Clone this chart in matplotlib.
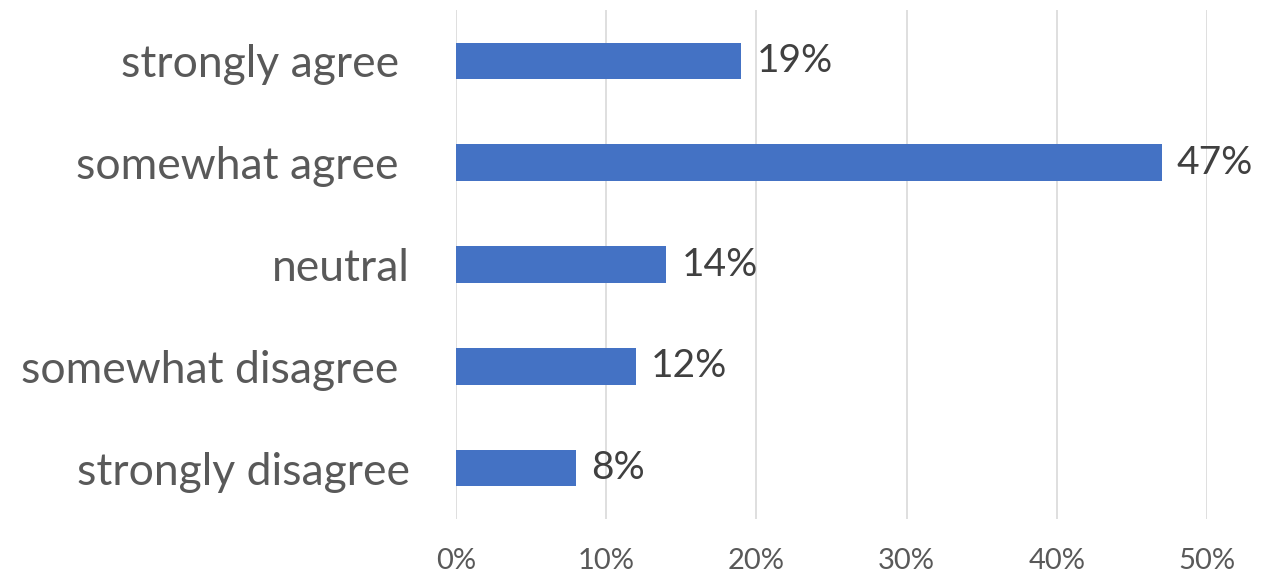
import matplotlib.pyplot as plt
from matplotlib.ticker import PercentFormatter

# survey answers, top to bottom as shown
categories = ['strongly agree ', 'somewhat agree ', 'neutral', 'somewhat disagree ', 'strongly disagree']
values = [19, 47, 14, 12, 8]
x_ticks = [0, 10, 20, 30, 40, 50]

plt.rcParams['font.family'] = ['Lato', 'DejaVu Sans']

fig = plt.figure(figsize=(12.81, 5.76), dpi=100)
ax = fig.add_axes([456 / 1281, 1 - 519 / 576, (1207 - 456) / 1281, (519 - 10) / 576])

ypos = list(range(len(categories)))
ax.barh(ypos, values, height=0.36, color='#4472C4', zorder=3)

for y, v in zip(ypos, values):
    ax.text(v + 1.0, y, f'{v}%', va='center', ha='left', fontsize=28, color='#404040')

ax.set_yticks(ypos)
ax.set_yticklabels(categories, fontsize=32, color='#595959')
ax.set_ylim(len(categories) - 0.5, -0.5)

ax.set_xlim(0, 50)
ax.set_xticks(x_ticks)
ax.xaxis.set_major_formatter(PercentFormatter(decimals=0))
ax.tick_params(axis='x', labelsize=21, colors='#595959', length=0, pad=21)
ax.tick_params(axis='y', length=0, pad=33)
ax.grid(axis='x', color='#D9D9D9', linewidth=1.2, zorder=0)

for s in ax.spines.values():
    s.set_visible(False)

plt.savefig('out.png', dpi=100)
